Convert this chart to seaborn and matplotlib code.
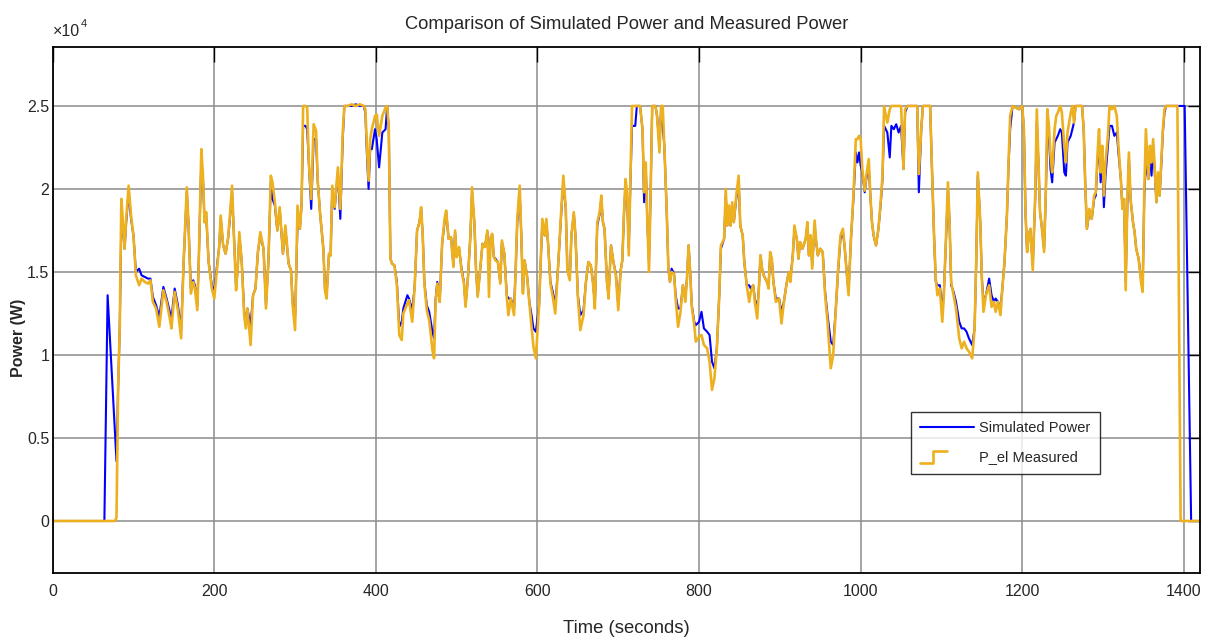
import matplotlib
matplotlib.use("Agg")
import matplotlib.pyplot as plt
import pandas as pd
import seaborn as sns
from matplotlib.legend_handler import HandlerBase
from matplotlib.lines import Line2D

# Drive-cycle power trace: time (s), measured electrical power (W), simulated power (W)
time_s = [
    0, 64, 68, 77, 79, 81, 83, 85, 87, 89,
    91, 94, 97, 100, 103, 107, 110, 114, 118, 121,
    124, 128, 132, 137, 141, 145, 147, 151, 155, 159,
    162, 166, 168, 171, 174, 176, 179, 181, 184, 186,
    188, 190, 193, 197, 200, 203, 206, 208, 211, 214,
    217, 219, 222, 224, 227, 229, 231, 234, 237, 239,
    241, 245, 248, 251, 254, 257, 261, 264, 267, 270,
    272, 275, 278, 281, 285, 288, 292, 295, 297, 300,
    303, 306, 308, 310, 313, 315, 317, 320, 323, 326,
    328, 331, 335, 337, 339, 342, 344, 346, 349, 353,
    356, 359, 361, 365, 370, 375, 380, 385, 387, 389,
    391, 393, 395, 399, 401, 404, 408, 412, 414, 416,
    418, 420, 423, 426, 429, 432, 434, 439, 441, 445,
    448, 451, 454, 456, 458, 460, 463, 466, 470, 472,
    474, 476, 479, 482, 485, 487, 490, 493, 496, 498,
    500, 503, 506, 509, 511, 514, 517, 519, 522, 524,
    526, 529, 532, 535, 538, 540, 542, 544, 546, 548,
    551, 554, 556, 559, 562, 564, 567, 571, 573, 575,
    578, 580, 582, 584, 587, 590, 593, 595, 598, 602,
    604, 606, 609, 611, 613, 616, 619, 622, 625, 628,
    630, 632, 635, 637, 640, 642, 645, 647, 650, 653,
    657, 660, 663, 666, 669, 671, 674, 677, 679, 681,
    683, 686, 688, 691, 694, 697, 700, 703, 705, 707,
    709, 711, 713, 715, 717, 721, 723, 727, 730, 732,
    734, 736, 738, 740, 742, 746, 748, 751, 753, 755,
    757, 760, 762, 764, 766, 769, 771, 774, 777, 780,
    783, 785, 787, 789, 791, 794, 796, 800, 803, 806,
    810, 813, 816, 819, 822, 825, 827, 831, 833, 835,
    837, 839, 841, 843, 846, 849, 851, 854, 856, 859,
    862, 864, 867, 869, 872, 874, 876, 878, 880, 884,
    886, 888, 890, 892, 895, 899, 902, 905, 908, 911,
    913, 916, 918, 921, 923, 925, 928, 932, 934, 936,
    938, 940, 943, 945, 947, 950, 953, 956, 959, 963,
    966, 969, 972, 975, 978, 980, 983, 985, 988, 991,
    994, 996, 998, 1000, 1002, 1005, 1007, 1010, 1012, 1014,
    1016, 1019, 1022, 1025, 1027, 1029, 1033, 1036, 1038, 1041,
    1044, 1047, 1050, 1053, 1055, 1058, 1066, 1070, 1072, 1075,
    1077, 1086, 1088, 1091, 1093, 1095, 1098, 1101, 1103, 1106,
    1108, 1110, 1112, 1115, 1118, 1122, 1125, 1128, 1131, 1134,
    1138, 1141, 1143, 1145, 1148, 1150, 1152, 1155, 1159, 1162,
    1165, 1167, 1170, 1173, 1175, 1178, 1181, 1183, 1185, 1188,
    1196, 1200, 1202, 1204, 1206, 1208, 1210, 1213, 1216, 1218,
    1220, 1222, 1224, 1227, 1229, 1231, 1233, 1235, 1237, 1240,
    1242, 1244, 1247, 1249, 1252, 1254, 1256, 1260, 1262, 1264,
    1266, 1274, 1276, 1278, 1280, 1283, 1286, 1289, 1291, 1293,
    1295, 1297, 1299, 1301, 1303, 1306, 1308, 1311, 1314, 1317,
    1319, 1322, 1324, 1326, 1328, 1330, 1332, 1334, 1337, 1339,
    1341, 1344, 1347, 1349, 1351, 1353, 1356, 1358, 1360, 1362,
    1364, 1366, 1368, 1370, 1372, 1374, 1376, 1378, 1392, 1396,
    1401, 1409, 1420,
]

measured_w = [
    0, 0, 0, 0, 200, 8000, 11600, 19400, 18000, 16400,
    18200, 20200, 18400, 17200, 14800, 14200, 14600, 14400, 14300, 14500,
    13200, 12800, 11700, 13900, 13200, 12200, 11600, 13800, 12700, 11000,
    15500, 20100, 18000, 13700, 14400, 14000, 12700, 16000, 22400, 20800,
    18000, 18600, 15600, 14000, 13400, 15000, 16500, 18400, 16600, 16100,
    17000, 18200, 20200, 17600, 13900, 15200, 17400, 15600, 12400, 11600,
    12800, 10600, 13600, 14000, 16200, 17400, 16400, 12800, 15600, 20800,
    20400, 19200, 17500, 18900, 16100, 17800, 15500, 15100, 13000, 11500,
    19000, 17600, 19000, 25000, 25000, 24900, 21600, 19400, 23900, 23500,
    20500, 18500, 16400, 13900, 13400, 16100, 16000, 20200, 18900, 21300,
    18800, 23400, 25000, 25000, 25100, 25000, 25100, 25000, 24800, 22500,
    20500, 23000, 23600, 24400, 24500, 23200, 24400, 24900, 25000, 23600,
    15800, 15500, 15400, 14200, 11200, 10900, 12500, 13100, 13300, 12000,
    14100, 17500, 18000, 18900, 17200, 14300, 12700, 12100, 10300, 9800,
    13200, 14300, 13200, 16700, 18200, 18700, 17000, 17100, 15300, 17500,
    15900, 16500, 15100, 14300, 12900, 14700, 17200, 20100, 17900, 15100,
    13500, 15100, 16700, 16500, 17500, 13500, 17100, 17300, 15900, 15700,
    15600, 14300, 16900, 16100, 13500, 12400, 13400, 12400, 15100, 18200,
    20200, 17200, 13700, 15700, 14800, 13100, 11500, 10500, 9800, 13000,
    15600, 18200, 17200, 18200, 16800, 14300, 13500, 12500, 14900, 17500,
    19200, 20800, 18900, 15100, 14500, 17200, 18600, 17200, 13500, 11500,
    12400, 14400, 15600, 15400, 14200, 12800, 18000, 18600, 19600, 18000,
    17600, 14400, 13400, 16600, 15600, 14800, 12700, 15100, 15700, 18500,
    20600, 19700, 16000, 20500, 25000, 25000, 25000, 25000, 23600, 19800,
    21600, 18000, 15000, 19600, 25000, 25000, 24400, 22200, 25000, 25000,
    22600, 18600, 15200, 14400, 15000, 14900, 13400, 11700, 12600, 14200,
    13200, 14600, 16600, 15000, 12900, 11800, 10800, 11100, 11200, 10600,
    10400, 9600, 7900, 8600, 10400, 13600, 16600, 17000, 20000, 17800,
    19000, 17800, 19200, 18000, 19600, 20800, 17800, 17200, 15600, 14200,
    13200, 13800, 14200, 13200, 12200, 14000, 16000, 15200, 14800, 14400,
    14000, 16200, 15800, 14400, 13200, 13400, 11900, 13200, 14200, 15000,
    14400, 16000, 17800, 17000, 15800, 16800, 16400, 17000, 18000, 16000,
    17200, 15200, 18100, 16800, 16000, 16400, 16200, 13600, 12000, 9200,
    10000, 12600, 15100, 17200, 17600, 16600, 14800, 13600, 17000, 19600,
    23000, 23000, 23200, 23000, 21200, 19900, 20800, 21800, 19600, 18000,
    17200, 16600, 17600, 19400, 20800, 25000, 24000, 24800, 25000, 25000,
    25000, 25000, 25000, 21200, 24800, 25000, 25000, 25000, 20900, 23600,
    25000, 25000, 21600, 16900, 14600, 13600, 14000, 12000, 13600, 17600,
    20400, 18000, 14400, 13600, 12800, 11000, 10400, 10800, 10400, 10200,
    9800, 11600, 15600, 21000, 18000, 14600, 12600, 13600, 14200, 12900,
    13200, 12600, 13200, 12400, 13800, 15600, 18400, 21600, 24400, 25000,
    24800, 25000, 23600, 18600, 16200, 17200, 17600, 15100, 19600, 24800,
    21600, 18600, 17800, 16200, 19600, 24800, 23800, 22000, 21000, 23600,
    24400, 24600, 25000, 24600, 22600, 21600, 23400, 24600, 25000, 24000,
    25000, 25000, 23600, 20200, 17600, 18800, 18200, 19600, 19800, 22000,
    23600, 21000, 22600, 19600, 21600, 23200, 25000, 24800, 25000, 24400,
    22600, 20600, 18800, 19400, 13900, 19200, 22200, 19400, 18000, 17400,
    16400, 15800, 14400, 13800, 19800, 23600, 20600, 22600, 21600, 23000,
    21200, 19200, 21000, 19600, 21600, 23600, 24800, 25000, 25000, 0,
    0, 0, 0,
]

simulated_w = [
    0, 0, 13600, 5400, 3600, 8000, 11600, 18000, 17600, 16400,
    18000, 19800, 18200, 17200, 15000, 15200, 14800, 14700, 14600, 14600,
    13500, 13000, 12300, 14100, 13400, 12600, 12200, 14000, 13000, 11500,
    15500, 19800, 18000, 14000, 14500, 14200, 13000, 16000, 21800, 20600,
    18000, 18400, 15600, 14200, 13800, 15200, 16500, 18200, 16600, 16100,
    17000, 18000, 19800, 17600, 14100, 15200, 17200, 15600, 12600, 12000,
    12800, 11800, 13600, 14000, 16200, 17200, 16400, 13000, 15600, 20400,
    19400, 19000, 17500, 18800, 16100, 17600, 15500, 15100, 13200, 12200,
    17800, 17600, 19000, 23800, 23800, 23600, 21600, 18800, 23000, 23000,
    20500, 18500, 16400, 14000, 13600, 16100, 16000, 20000, 18800, 21000,
    18200, 23000, 25000, 25000, 25000, 25100, 25000, 25000, 24600, 22000,
    20000, 22400, 22400, 23600, 23000, 21300, 23400, 23600, 25000, 23600,
    15800, 15500, 15400, 14400, 11700, 12000, 12800, 13600, 13400, 12700,
    14100, 17500, 18000, 18800, 17200, 14400, 13000, 12600, 11400, 11000,
    13400, 14400, 13200, 16700, 18000, 18600, 17000, 17100, 15400, 17400,
    15900, 16400, 15200, 14400, 13000, 14700, 17200, 19800, 17900, 15100,
    13600, 15100, 16700, 16500, 17400, 15000, 17000, 17200, 15900, 15800,
    15600, 14400, 16800, 16100, 13600, 13400, 13400, 12800, 15100, 18000,
    19800, 17200, 13800, 15700, 14800, 13200, 12300, 11600, 11400, 13000,
    15600, 18000, 17200, 18000, 16800, 14400, 13800, 13000, 14900, 17400,
    19000, 20400, 18800, 15200, 14600, 17200, 18500, 17200, 13600, 12400,
    12700, 14400, 15600, 15400, 14300, 13000, 17800, 18500, 19400, 18000,
    17600, 14400, 13600, 16600, 15600, 14900, 13000, 15100, 15700, 18400,
    20300, 19400, 16400, 20300, 23800, 23800, 25000, 25000, 23600, 19200,
    21400, 18000, 15600, 19600, 25000, 25000, 24400, 22600, 24800, 23800,
    22600, 18600, 15200, 14400, 15200, 14900, 13600, 12800, 12800, 14200,
    13400, 14600, 16600, 15000, 13000, 12000, 11800, 12000, 12600, 11600,
    11400, 11200, 9600, 9200, 10400, 13600, 16400, 17000, 19600, 17800,
    18800, 17800, 19000, 18000, 19400, 20400, 17800, 17200, 15600, 14200,
    14200, 14000, 14200, 13400, 12800, 14000, 16000, 15200, 14800, 14400,
    14200, 16000, 15800, 14400, 13400, 13400, 12600, 13200, 14200, 15000,
    14600, 16000, 17600, 17000, 15800, 16800, 16400, 17000, 17800, 16000,
    17200, 15400, 17800, 16800, 16000, 16400, 16200, 13800, 12400, 10800,
    10600, 12600, 15000, 17000, 17400, 16600, 14800, 13800, 17000, 19400,
    22200, 21600, 22200, 21400, 21000, 19800, 20600, 21400, 19600, 18000,
    17200, 16600, 17600, 19200, 20600, 23800, 23400, 21900, 23800, 23600,
    23900, 23400, 23800, 21200, 24600, 25000, 25000, 25000, 19800, 23600,
    25000, 25000, 21600, 16900, 14400, 14200, 14200, 12600, 13800, 17400,
    20000, 18000, 14200, 13800, 13200, 12000, 11600, 11600, 11400, 11000,
    10600, 11600, 15600, 20800, 18000, 14600, 13200, 13600, 14600, 13600,
    13200, 13400, 13200, 12800, 13800, 15600, 18400, 21400, 23600, 25000,
    24800, 25000, 23600, 18600, 16200, 17200, 17600, 15400, 19400, 24000,
    21600, 18600, 17800, 16400, 19400, 23600, 23200, 21200, 20400, 22800,
    23000, 23200, 23600, 23400, 21000, 20800, 22800, 23200, 23600, 24000,
    25000, 25000, 23600, 20200, 17600, 18600, 18200, 19400, 19600, 21600,
    22600, 20400, 22000, 18900, 20800, 22600, 23800, 23800, 23200, 23400,
    22200, 20600, 18800, 19400, 14400, 19000, 21800, 19400, 18000, 17400,
    16400, 15800, 14600, 14000, 19600, 21600, 20600, 22000, 20800, 22600,
    21000, 19200, 20800, 19600, 21400, 23400, 24600, 25000, 25000, 25000,
    25000, 0, 0,
]

x_ticks = [0, 200, 400, 600, 800, 1000, 1200, 1400]
y_ticks = [0, 5000, 10000, 15000, 20000, 25000]
y_tick_labels = ["0", "0.5", "1", "1.5", "2", "2.5"]

TITLE = "Comparison of Simulated Power and Measured Power"
SIM_LABEL = "Simulated Power"
MEAS_LABEL = "P_el Measured"

assert len(time_s) == len(measured_w) == len(simulated_w)

sns.set_theme(style="white")
plt.rcParams["font.family"] = ["Liberation Sans", "DejaVu Sans"]
plt.rcParams["axes.edgecolor"] = "black"

df = pd.DataFrame({"t": time_s, "sim": simulated_w, "meas": measured_w})

fig = plt.figure(figsize=(12.08, 6.44), dpi=100)
ax = fig.add_axes([0.0436, 0.1098, 0.9498, 0.8177])

sns.lineplot(data=df, x="t", y="sim", color="#0000ff", lw=1.5, sort=False,
             estimator=None, ax=ax, legend=False)
sns.lineplot(data=df, x="t", y="meas", color="#EDB120", lw=1.9, sort=False,
             estimator=None, ax=ax, legend=False)

ax.set_xlim(0, 1420)
ax.set_ylim(-3150, 28570)
ax.set_xticks(x_ticks)
ax.set_xticklabels([str(v) for v in x_ticks])
ax.set_yticks(y_ticks)
ax.set_yticklabels(y_tick_labels)

ax.grid(True, color="#8c8c8c", lw=1.1)
ax.set_axisbelow(True)
for sp in ax.spines.values():
    sp.set_visible(True)
    sp.set_color("black")
    sp.set_linewidth(1.3)

ax.tick_params(axis="both", direction="in", top=True, right=True,
               colors="black", width=1.0, labelcolor="#262626", labelsize=11.5)
ax.tick_params(axis="x", length=11, pad=7.5)
ax.tick_params(axis="y", length=8.5, pad=2.5)

ax.set_xlabel("Time (seconds)", fontsize=13.3, color="#262626")
ax.xaxis.set_label_coords(0.5, -0.104)
ax.xaxis.label.set_va("center")
ax.set_ylabel("Power (W)", fontsize=11.5, fontweight="bold", color="#262626")
ax.yaxis.set_label_coords(-0.0302, 0.447)
ax.yaxis.label.set_va("center")

ax.text(0.5, 1.043, TITLE, transform=ax.transAxes, ha="center", va="center",
        fontsize=13.2, color="#262626")

# exponent marker for the y axis
ax.text(0.0, 1.028, "×10", transform=ax.transAxes, ha="left", va="center",
        fontsize=11.5, color="#262626")
ax.text(0.0243, 1.043, "4", transform=ax.transAxes, ha="left", va="center",
        fontsize=8, color="#262626")


class StepHandler(HandlerBase):
    def create_artists(self, legend, orig_handle, xdescent, ydescent, width,
                       height, fontsize, trans):
        x0, y0 = -xdescent, -ydescent
        w = width * 0.5
        xs = [x0, x0 + 0.48 * w, x0 + 0.48 * w, x0 + w]
        ys = [y0 - 0.2 * height, y0 - 0.2 * height, y0 + 1.0 * height, y0 + 1.0 * height]
        ln = Line2D(xs, ys, color=orig_handle.get_color(),
                    lw=orig_handle.get_linewidth(), transform=trans)
        return [ln]


lines = ax.get_lines()
sim_line, meas_line = lines[0], lines[1]
leg = ax.legend([sim_line, meas_line], [SIM_LABEL, MEAS_LABEL],
                handler_map={meas_line: StepHandler()},
                loc="upper left", bbox_to_anchor=(0.748, 0.307),
                borderaxespad=0, fontsize=10.5, frameon=True, fancybox=False,
                handlelength=3.7, handletextpad=0.35, labelspacing=1.05,
                borderpad=0.65)
leg.get_frame().set_edgecolor("black")
leg.get_frame().set_linewidth(1.0)
for txt in leg.get_texts():
    txt.set_color("#262626")

fig.savefig("out.png", dpi=100)
